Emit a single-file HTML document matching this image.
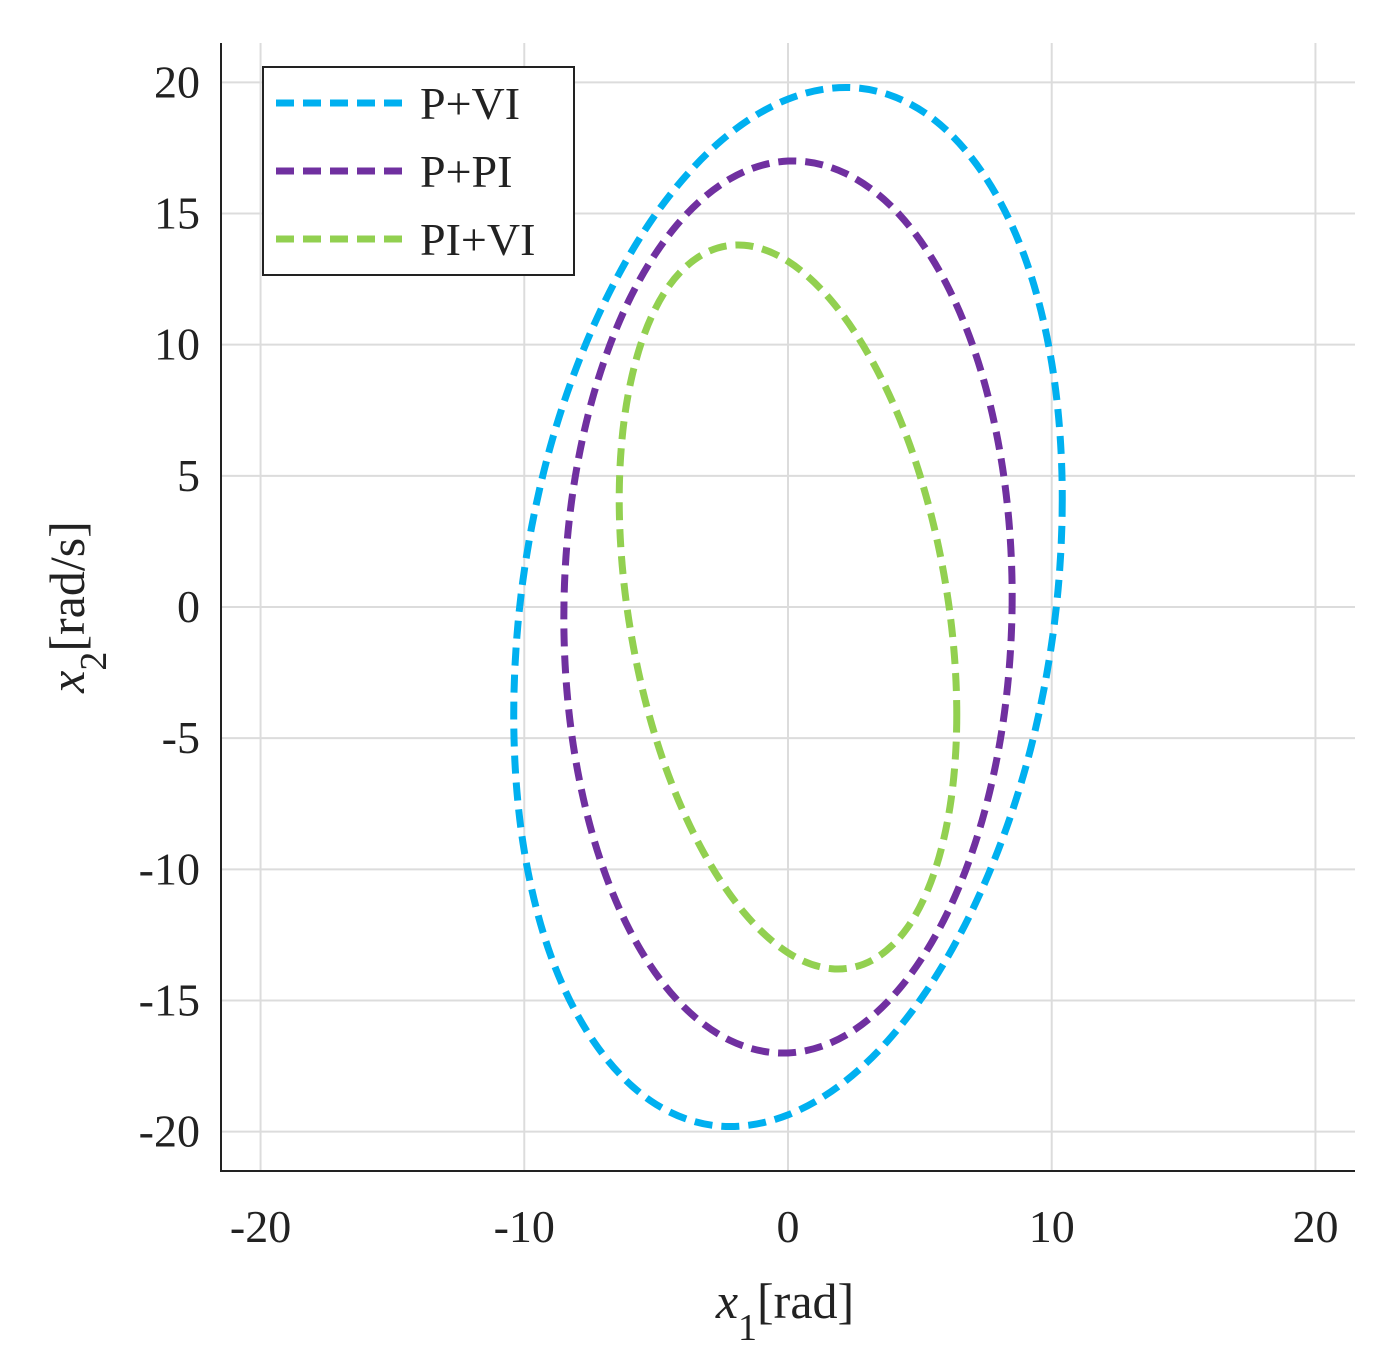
<!DOCTYPE html>
<html><head><meta charset="utf-8"><style>
html,body{margin:0;padding:0;background:#fff;}
svg{display:block;font-family:"Liberation Serif",serif;}
</style></head><body>
<svg id="chart" width="1392" height="1371" viewBox="0 0 1392 1371">
<g id="grid"></g>
<g id="curves"></g>
<g id="axes"></g>
<g>
<rect x="263" y="67" width="311" height="208" fill="#fff" stroke="#222" stroke-width="2"/>
<g><line x1="276" y1="103" x2="406" y2="103" stroke="#00b0f0" stroke-width="7" stroke-dasharray="18,9"/><text x="420" y="119" font-size="46" fill="#222">P+VI</text></g>
<g><line x1="276" y1="171" x2="406" y2="171" stroke="#7030a0" stroke-width="7" stroke-dasharray="18,9"/><text x="420" y="187" font-size="46" fill="#222">P+PI</text></g>
<g><line x1="276" y1="239" x2="406" y2="239" stroke="#92d050" stroke-width="7" stroke-dasharray="18,9"/><text x="420" y="255" font-size="46" fill="#222">PI+VI</text></g>
</g>
<text x="785" y="1318" font-size="50" text-anchor="middle" fill="#222"><tspan font-style="italic">x</tspan><tspan font-size="38" dy="22">1</tspan><tspan dy="-22">[rad]</tspan></text>
<text transform="translate(84,607) rotate(-90)" font-size="50" text-anchor="middle" fill="#222"><tspan font-style="italic">x</tspan><tspan font-size="38" dy="22">2</tspan><tspan dy="-22">[rad/s]</tspan></text>
</svg>
<script>
const xTicks=[-20,-10,0,10,20];
const yTicks=[20,15,10,5,0,-5,-10,-15,-20];
const xTickLabels=["-20","-10","0","10","20"];
const yTickLabels=["20","15","10","5","0","-5","-10","-15","-20"];
const seriesNames=["P+VI","P+PI","PI+VI"];
const seriesColors=["#00b0f0","#7030a0","#92d050"];
const pviX=[10.4,10.05,9.01,7.35,5.2,2.69,0,-2.69,-5.2,-7.35,-9.01,-10.05,-10.4,-10.05,-9.01,-7.35,-5.2,-2.69,0,2.69,5.2,7.35,9.01,10.05];
const pviY=[4.12,-1.03,-6.12,-10.77,-14.71,-17.64,-19.36,-19.78,-18.83,-16.59,-13.25,-8.99,-4.12,1.03,6.12,10.77,14.71,17.64,19.36,19.78,18.83,16.59,13.25,8.99];
const ppiX=[8.5,8.21,7.36,6.01,4.25,2.2,0,-2.2,-4.25,-6.01,-7.36,-8.21,-8.5,-8.21,-7.36,-6.01,-4.25,-2.2,0,2.2,4.25,6.01,7.36,8.21];
const ppiY=[0.41,-4.01,-8.14,-11.73,-14.52,-16.32,-17,-16.52,-14.93,-12.31,-8.86,-4.79,-0.41,4.01,8.14,11.73,14.52,16.32,17,16.52,14.93,12.31,8.86,4.79];
const piviX=[6.4,6.18,5.54,4.53,3.2,1.66,0,-1.66,-3.2,-4.53,-5.54,-6.18,-6.4,-6.18,-5.54,-4.53,-3.2,-1.66,0,1.66,3.2,4.53,5.54,6.18];
const piviY=[-4.1,-7.37,-10.14,-12.22,-13.46,-13.79,-13.18,-11.66,-9.36,-6.42,-3.05,0.55,4.1,7.37,10.14,12.22,13.46,13.79,13.18,11.66,9.36,6.42,3.05,-0.55];

const NS="http://www.w3.org/2000/svg";
const L=221,R=1355,T=43,B=1171;
const xmin=-21.5,xmax=21.5,ymin=-21.5,ymax=21.5;
const sx=v=>L+(v-xmin)/(xmax-xmin)*(R-L);
const sy=v=>B-(v-ymin)/(ymax-ymin)*(B-T);
function mk(tag,attrs,parent){const e=document.createElementNS(NS,tag);for(const k in attrs)e.setAttribute(k,attrs[k]);parent.appendChild(e);return e;}
const grid=document.getElementById('grid'),axes=document.getElementById('axes'),curves=document.getElementById('curves');
xTicks.forEach((v,i)=>{
 const g=mk('line',{x1:sx(v),x2:sx(v),y1:T,y2:B,stroke:'#dcdcdc','stroke-width':2},grid);
 
 
 const t=mk('text',{x:sx(v),y:1242,'font-size':46,'text-anchor':'middle',fill:'#222'},axes);
 t.textContent=xTickLabels[i];
 
 
});
yTicks.forEach((v,i)=>{
 const g=mk('line',{x1:L,x2:R,y1:sy(v),y2:sy(v),stroke:'#dcdcdc','stroke-width':2},grid);
 
 
 const t=mk('text',{x:200,y:sy(v)+15,'font-size':46,'text-anchor':'end',fill:'#222'},axes);
 t.textContent=yTickLabels[i];
 
 
});
const ax=mk('path',{d:`M${L},${T} V${B} H${R}`,fill:'none',stroke:'#222','stroke-width':2},axes);


function closedPath(xs,ys){
 const p=xs.map((x,i)=>[sx(x),sy(ys[i])]),n=p.length;
 let d=`M${p[0][0]},${p[0][1]}`;
 for(let i=0;i<n;i++){
  const p0=p[(i-1+n)%n],p1=p[i],p2=p[(i+1)%n],p3=p[(i+2)%n];
  d+=` C${p1[0]+(p2[0]-p0[0])/6},${p1[1]+(p2[1]-p0[1])/6} ${p2[0]-(p3[0]-p1[0])/6},${p2[1]-(p3[1]-p1[1])/6} ${p2[0]},${p2[1]}`;
 }
 return d+'Z';
}
const data=[[pviX,pviY],[ppiX,ppiY],[piviX,piviY]];
const names=['curve-p-vi','curve-p-pi','curve-pi-vi'];
data.forEach((s,i)=>{
 const el=mk('path',{d:closedPath(s[0],s[1]),fill:'none',stroke:seriesColors[i],'stroke-width':7,'stroke-dasharray':'18,9'},curves);
 
 
});
</script>
</body></html>
